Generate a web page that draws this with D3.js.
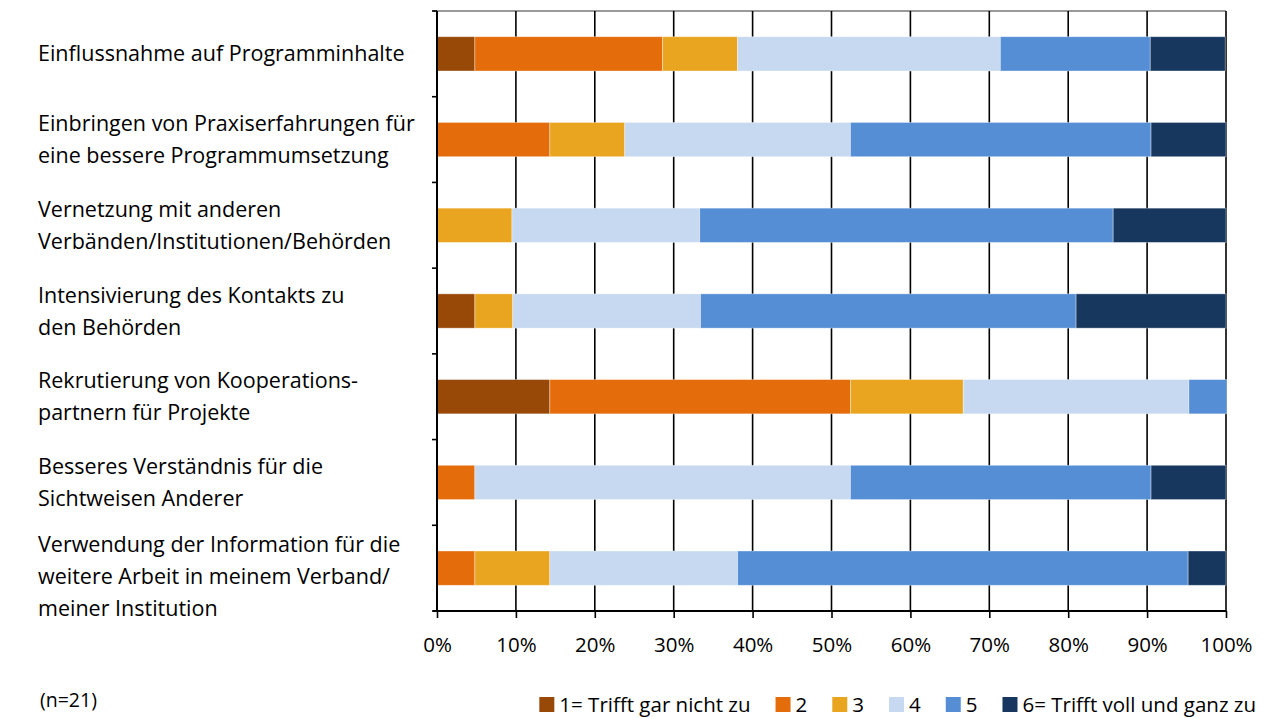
<!DOCTYPE html>
<html>
<head>
<meta charset="utf-8">
<script src="https://cdn.jsdelivr.net/npm/d3@7"></script>
<style>
  body { margin: 0; background: #fff; }
  svg text { font-family: "Open Sans", sans-serif; fill: #000; }
</style>
</head>
<body>
<div id="chart"></div>
<script>
// categories (label lines)
var categories = [
    ["Einflussnahme auf Programminhalte"],
    ["Einbringen von Praxiserfahrungen für", "eine bessere Programmumsetzung"],
    ["Vernetzung mit anderen", "Verbänden/Institutionen/Behörden"],
    ["Intensivierung des Kontakts zu", "den Behörden"],
    ["Rekrutierung von Kooperations-", "partnern für Projekte"],
    ["Besseres Verständnis für die", "Sichtweisen Anderer"],
    ["Verwendung der Information für die", "weitere Arbeit in meinem Verband/", "meiner Institution"]
]

// shares in % (n=21), one array per answer level
var s1 = [4.8, 0, 0, 4.8, 14.3, 0, 0]
var s2 = [23.8, 14.3, 0, 0, 38.1, 4.8, 4.8]
var s3 = [9.5, 9.5, 9.5, 4.8, 14.3, 0, 9.5]
var s4 = [33.3, 28.6, 23.8, 23.8, 28.6, 47.6, 23.8]
var s5 = [19.0, 38.1, 52.4, 47.6, 4.8, 38.1, 57.1]
var s6 = [9.5, 9.5, 14.3, 19.0, 0, 9.5, 4.8]

var seriesNames = ["1= Trifft gar nicht zu", "2", "3", "4", "5", "6= Trifft voll und ganz zu"]
var seriesColors = ["#984807", "#E46C0A", "#E9A51F", "#C6D9F1", "#558ED5", "#17375E"]
var xTicks = [0, 10, 20, 30, 40, 50, 60, 70, 80, 90, 100]

var width = 1267
var height = 718
var margin = { left: 437, right: 41, top: 11, bottom: 107 }

var svg = d3.select("#chart")
    .append("svg")
    .attr("width", width)
    .attr("height", height)

var allSeries = [s1, s2, s3, s4, s5, s6]

var rows = categories.map(function (c, i) {
    var row = { idx: i }
    allSeries.forEach(function (s, k) { row["k" + k] = s[i] })
    return row
})

var keys = allSeries.map(function (s, k) { return "k" + k })
var stacked = d3.stack().keys(keys)(rows)

var x = d3.scaleLinear()
    .domain([0, 100])
    .range([margin.left, width - margin.right])

var y = d3.scaleBand()
    .domain(d3.range(categories.length))
    .range([margin.top, height - margin.bottom])
    .paddingInner(0.6)
    .paddingOuter(0.3)

var yOuter = d3.scaleBand()
    .domain(d3.range(categories.length))
    .range([margin.top, height - margin.bottom])

// top border
svg.append("line")
    .attr("x1", margin.left - 4)
    .attr("x2", x(100))
    .attr("y1", margin.top)
    .attr("y2", margin.top)
    .attr("stroke", "#777")
    .attr("stroke-width", 1.5)

// vertical gridlines
svg.selectAll(".grid")
    .data(xTicks.slice(1))
    .enter()
    .append("line")
    .attr("x1", function (d) { return x(d) })
    .attr("x2", function (d) { return x(d) })
    .attr("y1", margin.top)
    .attr("y2", height - margin.bottom)
    .attr("stroke", "#000")
    .attr("stroke-width", 1.6)

// bars
svg.selectAll(".series")
    .data(stacked)
    .enter()
    .append("g")
    .attr("fill", function (d, k) { return seriesColors[k] })
    .selectAll("rect")
    .data(function (d) { return d })
    .enter()
    .append("rect")
    .attr("x", function (d) { return x(d[0]) })
    .attr("width", function (d) { return x(d[1]) - x(d[0]) })
    .attr("y", function (d, i) { return y(i) })
    .attr("height", y.bandwidth())
    .attr("stroke", "rgba(255,255,255,0.45)")
    .attr("stroke-width", 0.8)

// x axis
var xAxis = svg.append("g")
    .attr("transform", "translate(0," + (height - margin.bottom) + ")")
    .call(d3.axisBottom(x)
        .tickValues(xTicks)
        .tickSize(7)
        .tickFormat(function (d) { return d + "%" }))
xAxis.select(".domain").attr("stroke", "#000").attr("stroke-width", 2)
    .attr("d", "M" + (margin.left - 4) + ",0H" + x(100))
xAxis.selectAll(".tick line").attr("stroke", "#000").attr("stroke-width", 1.6)
xAxis.selectAll(".tick text")
    .attr("y", 34)
    .attr("dy", "0.35em")
    .style("font-size", "20.5px")

// y axis (ticks between categories)
svg.append("line")
    .attr("x1", margin.left)
    .attr("x2", margin.left)
    .attr("y1", margin.top)
    .attr("y2", height - margin.bottom)
    .attr("stroke", "#000")
    .attr("stroke-width", 2)

svg.selectAll(".ytick")
    .data(d3.range(categories.length + 1))
    .enter()
    .append("line")
    .attr("x1", margin.left - 5)
    .attr("x2", margin.left)
    .attr("y1", function (i) { return margin.top + i * yOuter.step() })
    .attr("y2", function (i) { return margin.top + i * yOuter.step() })
    .attr("stroke", "#000")
    .attr("stroke-width", 1.6)

// category labels
var lineH = 32
svg.selectAll(".cat")
    .data(categories)
    .enter()
    .append("text")
    .attr("x", 38)
    .attr("y", function (d, i) {
        // the three-line label sits a bit lower, like in the original
        var shift = d.length > 2 ? 8 : 0
        return yOuter(i) + yOuter.bandwidth() / 2 - (d.length - 1) * lineH / 2 + shift
    })
    .style("font-size", "21.5px")
    .each(function (d) {
        var t = d3.select(this)
        d.forEach(function (line, j) {
            t.append("tspan")
                .attr("x", 38)
                .attr("dy", j == 0 ? "0.35em" : lineH)
                .text(line)
        })
    })

// note
svg.append("text")
    .attr("x", 40)
    .attr("y", 700)
    .attr("dy", "0.35em")
    .style("font-size", "19.5px")
    .text("(n=21)")

// legend, laid out left to right and then right-aligned
var legend = svg.append("g")
var lx = 0
seriesNames.forEach(function (name, k) {
    var g = legend.append("g").attr("transform", "translate(" + lx + ",0)")
    g.append("rect")
        .attr("width", 15)
        .attr("height", 15)
        .attr("fill", seriesColors[k])
    var t = g.append("text")
        .attr("x", 20)
        .attr("y", 7.5)
        .attr("dy", "0.35em")
        .style("font-size", "20.5px")
        .text(name)
    lx += 20 + t.node().getComputedTextLength()
    if (k < seriesNames.length - 1) lx += 25
})
legend.attr("transform", "translate(" + (1256 - lx) + ",697)")
</script>
</body>
</html>
